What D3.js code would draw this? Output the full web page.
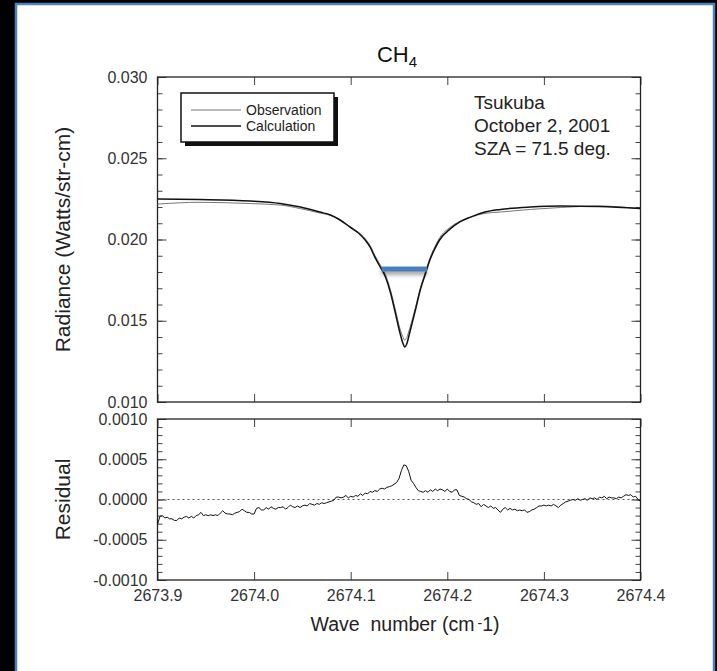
<!DOCTYPE html>
<html><head><meta charset="utf-8">
<script src="https://cdn.jsdelivr.net/npm/d3@7/dist/d3.min.js"></script>
<style>
body{margin:0;background:#000;}
svg{display:block;}
text{font-family:"Liberation Sans",Arial,Helvetica,sans-serif;}
</style>
</head><body>
<svg id="chart" width="717" height="671"></svg>
<script>
// ---- data ----
const wavenumbers = [2673.900,2673.944,2673.996,2674.027,2674.048,2674.068,2674.079,2674.089,2674.099,2674.108,
  2674.115,2674.120,2674.125,2674.130,2674.136,2674.141,2674.146,2674.151,2674.154,2674.156,
  2674.158,2674.161,2674.167,2674.172,2674.177,2674.182,2674.187,2674.192,2674.203,2674.213,
  2674.224,2674.239,2674.255,2674.286,2674.317,2674.358,2674.400];
const calculation = [0.02249,0.02246,0.02237,0.02222,0.02200,0.02169,0.02151,0.02120,0.02077,0.02040,
  0.01997,0.01954,0.01892,0.01837,0.01769,0.01677,0.01554,0.01425,0.01363,0.01338,
  0.01357,0.01425,0.01566,0.01689,0.01782,0.01874,0.01942,0.01997,0.02065,0.02108,
  0.02138,0.02169,0.02185,0.02200,0.02206,0.02203,0.02191];
const observation = [0.02218,0.02229,0.02221,0.02212,0.02190,0.02163,0.02149,0.02123,0.02081,0.02045,
  0.02005,0.01964,0.01903,0.01850,0.01783,0.01693,0.01574,0.01451,0.01402,0.01380,
  0.01397,0.01451,0.01581,0.01699,0.01793,0.01886,0.01954,0.02010,0.02075,0.02112,
  0.02137,0.02161,0.02169,0.02185,0.02197,0.02206,0.02189];
const residual = [
-3.1e-4,-2.1e-4,-2.0e-4,-2.3e-4,-2.2e-4,-2.4e-4,-2.4e-4,-2.6e-4,-2.6e-4,-2.3e-4,
-2.4e-4,-2.2e-4,-2.1e-4,-2.3e-4,-2.1e-4,-2.3e-4,-2.0e-4,-1.9e-4,-1.6e-4,-2.0e-4,
-1.9e-4,-2.0e-4,-1.9e-4,-2.0e-4,-1.9e-4,-2.0e-4,-1.7e-4,-1.4e-4,-1.7e-4,-1.8e-4,
-1.8e-4,-1.9e-4,-1.7e-4,-1.6e-4,-1.5e-4,-1.2e-4,-1.4e-4,-1.6e-4,-1.6e-4,-1.8e-4,
-1.8e-4,-1.1e-4,-1.0e-4,-1.3e-4,-1.3e-4,-1.0e-4,-1.2e-4,-0.9e-4,-1.1e-4,-1.2e-4,
-1.0e-4,-1.0e-4,-0.9e-4,-1.2e-4,-1.0e-4,-0.7e-4,-0.9e-4,-1.0e-4,-0.8e-4,-1.0e-4,
-0.8e-4,-0.7e-4,-0.8e-4,-0.5e-4,-0.6e-4,-0.7e-4,-0.5e-4,-0.6e-4,-0.4e-4,-0.5e-4,
-0.4e-4,-0.3e-4,-0.2e-4,-0.1e-4,0.3e-4,0.3e-4,0.2e-4,0.3e-4,0.5e-4,0.2e-4,
0.4e-4,0.3e-4,0.5e-4,0.4e-4,0.7e-4,0.5e-4,0.8e-4,0.7e-4,1.0e-4,0.9e-4,
1.1e-4,1.0e-4,1.3e-4,1.4e-4,1.3e-4,1.5e-4,1.6e-4,1.7e-4,1.9e-4,2.1e-4,
2.6e-4,3.6e-4,4.3e-4,4.2e-4,3.5e-4,2.4e-4,2.0e-4,1.5e-4,1.1e-4,1.0e-4,
0.9e-4,1.1e-4,0.9e-4,1.2e-4,1.0e-4,1.3e-4,1.1e-4,1.3e-4,1.2e-4,1.0e-4,
1.3e-4,1.0e-4,0.9e-4,1.2e-4,1.2e-4,0.5e-4,0.4e-4,0.3e-4,0.1e-4,0.0,
-0.3e-4,-0.4e-4,-0.6e-4,-0.5e-4,-0.9e-4,-0.6e-4,-0.8e-4,-1.0e-4,-0.8e-4,-1.1e-4,
-1.0e-4,-1.3e-4,-1.6e-4,-1.2e-4,-1.0e-4,-1.3e-4,-1.1e-4,-1.3e-4,-1.2e-4,-1.4e-4,
-1.3e-4,-1.4e-4,-1.3e-4,-1.6e-4,-1.5e-4,-1.3e-4,-1.2e-4,-1.0e-4,-0.8e-4,-0.8e-4,
-0.7e-4,-0.8e-4,-0.7e-4,-0.8e-4,-0.6e-4,-0.8e-4,-1.0e-4,-0.7e-4,-0.5e-4,-0.3e-4,
-0.2e-4,-0.1e-4,0.0,-0.1e-4,0.1e-4,-0.1e-4,0.0,0.1e-4,-0.1e-4,0.2e-4,
0.1e-4,0.2e-4,0.0,0.3e-4,0.2e-4,0.4e-4,0.1e-4,0.3e-4,0.2e-4,0.2e-4,
0.1e-4,0.3e-4,0.2e-4,0.4e-4,0.6e-4,0.5e-4,0.6e-4,0.3e-4,0.4e-4,0.0,
-0.2e-4];
const residualStart = 2673.9, residualStep = 0.0025;
const halfWidthBar = {from: 2674.132, to: 2674.179, value: 0.01818};
const xTicks = [2673.9, 2674.0, 2674.1, 2674.2, 2674.3, 2674.4];
const radianceTicks = [0.010, 0.015, 0.020, 0.025, 0.030];
const residualTicks = [-0.0010, -0.0005, 0.0000, 0.0005, 0.0010];
const legendLabels = ["Observation", "Calculation"];
const siteLines = ["Tsukuba", "October 2, 2001", "SZA = 71.5 deg."];

// ---- layout ----
const svg = d3.select("#chart");
const L = 157.5, R = 640.5;
const topT = 77, topB = 402, resT = 419, resB = 580;
const ink = "#222", tickInk = "#444";

svg.append("rect").attr("x", 0).attr("y", 0).attr("width", 717).attr("height", 671).attr("fill", "#000");
svg.append("rect").attr("x", 16).attr("y", 4).attr("width", 698).attr("height", 680)
  .attr("fill", "#fff").attr("stroke", "#4f81bd").attr("stroke-width", 2.5);

const x = d3.scaleLinear().domain([2673.9, 2674.4]).range([L, R]);
const yRad = d3.scaleLinear().domain([0.010, 0.030]).range([topB, topT]);
const yRes = d3.scaleLinear().domain([-0.0010, 0.0010]).range([resB, resT]);

const defs = svg.append("defs");
const f = defs.append("filter").attr("id", "sh").attr("filterUnits", "userSpaceOnUse")
  .attr("x", 300).attr("y", 230).attr("width", 200).attr("height", 80);
f.append("feDropShadow").attr("dx", 0).attr("dy", 3).attr("stdDeviation", 2.2)
  .attr("flood-color", "#000").attr("flood-opacity", 0.4);

function styleAxis(g){
  g.select(".domain").remove();
  g.selectAll(".tick line").attr("stroke", tickInk).attr("stroke-width", 1);
  g.selectAll(".tick text").attr("fill", "#333").attr("font-size", 16);
}

function panel(yScale, t, b, majors, minorStep, fmt, showX){
  const [lo, hi] = yScale.domain();
  const minors = d3.range(Math.round((hi - lo) / minorStep) + 1).map(i => lo + i * minorStep);
  const gb = svg.append("g").attr("transform", `translate(0,${b})`)
    .call(d3.axisBottom(x).tickValues(xTicks).tickSize(-8).tickPadding(showX ? 10 : 0)
      .tickFormat(showX ? d3.format(".1f") : ""));
  styleAxis(gb);
  const gt = svg.append("g").attr("transform", `translate(0,${t})`)
    .call(d3.axisTop(x).tickValues(xTicks).tickSize(-8).tickFormat(""));
  styleAxis(gt);
  const gl = svg.append("g").attr("transform", `translate(${L},0)`)
    .call(d3.axisLeft(yScale).tickValues(majors).tickSize(-9).tickPadding(10).tickFormat(fmt));
  styleAxis(gl);
  const glm = svg.append("g").attr("transform", `translate(${L},0)`)
    .call(d3.axisLeft(yScale).tickValues(minors).tickSize(-5).tickFormat(""));
  styleAxis(glm);
  const gr = svg.append("g").attr("transform", `translate(${R},0)`)
    .call(d3.axisRight(yScale).tickValues(majors).tickSize(-9).tickFormat(""));
  styleAxis(gr);
  const grm = svg.append("g").attr("transform", `translate(${R},0)`)
    .call(d3.axisRight(yScale).tickValues(minors).tickSize(-5).tickFormat(""));
  styleAxis(grm);
  svg.append("rect").attr("x", L).attr("y", t).attr("width", R - L).attr("height", b - t)
    .attr("fill", "none").attr("stroke", ink).attr("stroke-width", 1.3);
}

panel(yRad, topT, topB, radianceTicks, 0.001, d3.format(".3f"), false);
panel(yRes, resT, resB, residualTicks, 0.0001, d => (d < 0 ? "-" : "") + d3.format(".4f")(Math.abs(d)), true);

// ---- top panel lines ----
const lineRad = d3.line().x((d, i) => x(wavenumbers[i])).y(d => yRad(d)).curve(d3.curveMonotoneX);
svg.append("path").attr("d", lineRad(observation)).attr("fill", "none").attr("stroke", "#777").attr("stroke-width", 1);
svg.append("path").attr("d", lineRad(calculation)).attr("fill", "none").attr("stroke", "#111").attr("stroke-width", 1.5);

// blue half-width bar
svg.append("rect").attr("x", x(halfWidthBar.from)).attr("width", x(halfWidthBar.to) - x(halfWidthBar.from))
  .attr("y", yRad(halfWidthBar.value) - 2.5).attr("height", 5)
  .attr("fill", "#4a7ebb").attr("filter", "url(#sh)");

// ---- residual panel ----
svg.append("line").attr("x1", L).attr("x2", R).attr("y1", yRes(0)).attr("y2", yRes(0))
  .attr("stroke", "#555").attr("stroke-width", 1).attr("stroke-dasharray", "2,3");
const lineRes = d3.line().x((d, i) => x(residualStart + i * residualStep)).y(d => yRes(d));
svg.append("path").attr("d", lineRes(residual)).attr("fill", "none").attr("stroke", "#111").attr("stroke-width", 1);

// ---- legend ----
const lg = svg.append("g");
lg.append("rect").attr("x", 185).attr("y", 97).attr("width", 153).attr("height", 49).attr("fill", "#111");
lg.append("rect").attr("x", 181).attr("y", 93).attr("width", 153).attr("height", 49)
  .attr("fill", "#fff").attr("stroke", "#111").attr("stroke-width", 1.5);
legendLabels.forEach((lab, i) => {
  const yy = 110 + i * 16;
  lg.append("line").attr("x1", 191).attr("x2", 241).attr("y1", yy).attr("y2", yy)
    .attr("stroke", i === 0 ? "#777" : "#111").attr("stroke-width", i === 0 ? 1 : 1.5);
  lg.append("text").attr("x", 246).attr("y", yy).attr("dy", "0.35em").attr("font-size", 14)
    .attr("fill", "#222").text(lab);
});

// ---- annotation ----
siteLines.forEach((s, i) => {
  svg.append("text").attr("x", 474).attr("y", 109 + i * 23).attr("font-size", 19).attr("fill", "#222").text(s);
});

// ---- titles ----
const title = svg.append("text").attr("x", 397).attr("y", 62).attr("text-anchor", "middle")
  .attr("font-size", 22).attr("fill", "#111");
title.append("tspan").text("CH");
title.append("tspan").attr("font-size", 15).attr("dy", 5).text("4");

const xl = svg.append("text").attr("x", 405).attr("y", 631).attr("text-anchor", "middle")
  .attr("font-size", 19.5).attr("fill", "#222");
xl.append("tspan").text("Wave\u00a0\u00a0number (cm");
xl.append("tspan").attr("font-size", 14).attr("dy", -3).attr("dx", 3).text("-");
xl.append("tspan").attr("dy", 3).text("1)");

svg.append("text").attr("transform", `translate(70,${(topT + topB) / 2}) rotate(-90)`)
  .attr("text-anchor", "middle").attr("font-size", 21).attr("fill", "#222").text("Radiance (Watts/str-cm)");
svg.append("text").attr("transform", `translate(70,${(resT + resB) / 2}) rotate(-90)`)
  .attr("text-anchor", "middle").attr("font-size", 21).attr("fill", "#222").text("Residual");
</script>
</body></html>
